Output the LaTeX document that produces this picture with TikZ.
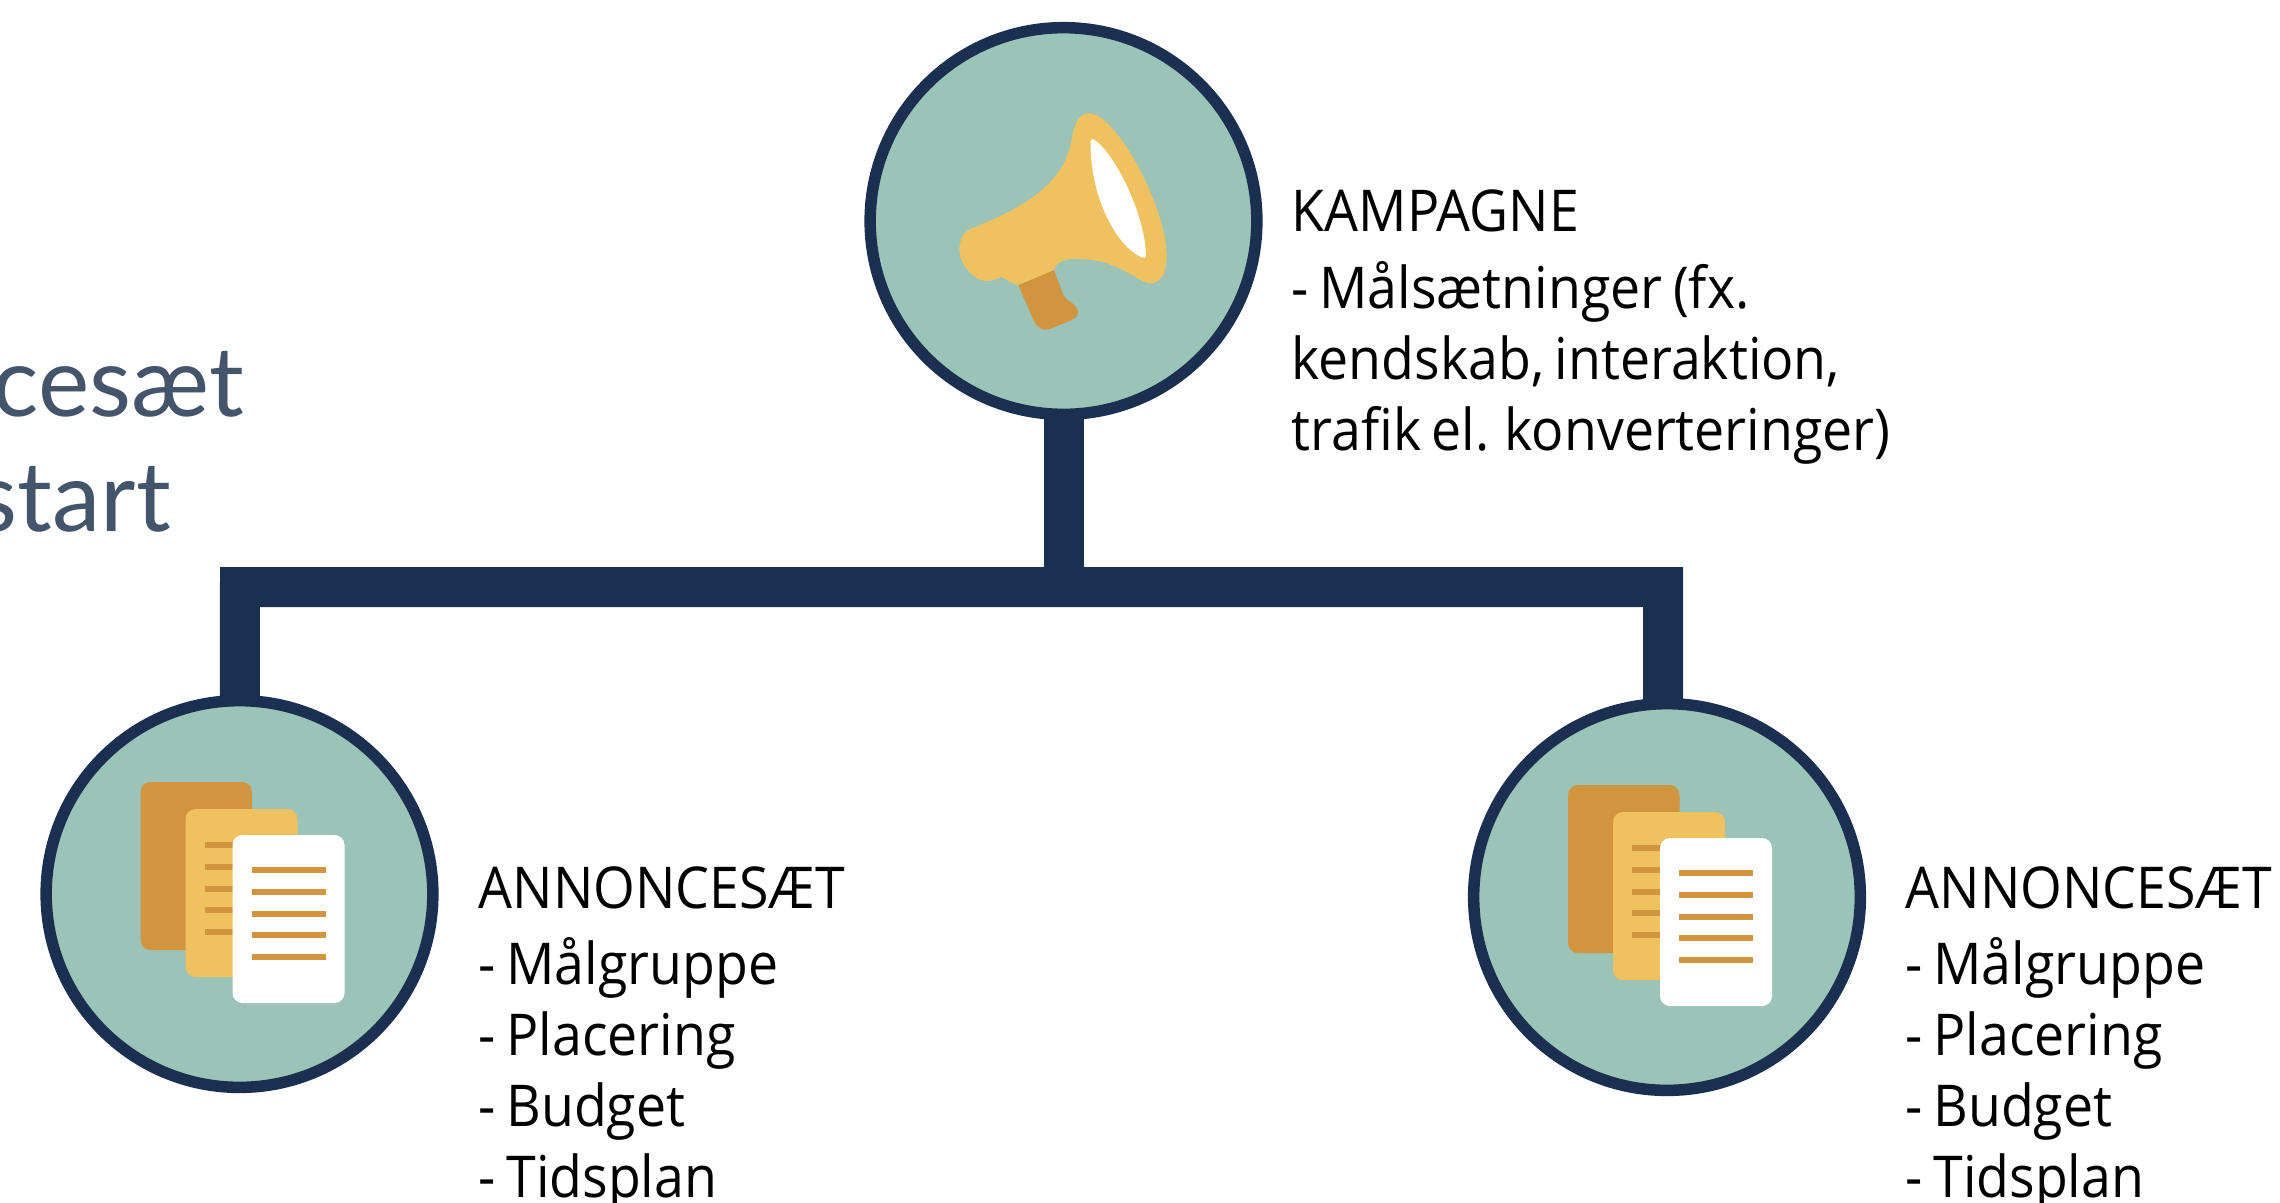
\documentclass[tikz,border=0pt]{standalone}
\usepackage{fontspec}
\setmainfont{Open Sans}[FakeStretch=0.93,WordSpace=0.75]
\newfontfamily\titelfont{Lato}
\usepackage{xcolor}
\usepackage{tikz}
\usetikzlibrary{backgrounds}
\definecolor{navy}{HTML}{1B3050}
\definecolor{teal}{HTML}{9BC3B7}
\definecolor{gul}{HTML}{F0C25F}
\definecolor{orange}{HTML}{D2953F}
\definecolor{titel}{HTML}{44546A}
\tikzset{
	rund/.style={circle,draw=navy,fill=teal,line width=1.15mm,minimum size=3.865cm,inner sep=0pt},
	link/.style={draw=navy,line width=4mm,line join=miter},
	tekst/.style={anchor=north west,align=left,inner sep=0pt,font=\fontsize{16.4}{20.2}\selectfont},
	titeltekst/.style={anchor=base east,inner sep=0pt,text=titel,font=\titelfont\fontsize{27.6}{32.7}\selectfont},
	ark/.style={rounded corners=1mm},
	streg/.style={draw=orange,line width=0.6mm},
	pics/dokumenter/.style={code={
		\fill[ark,orange] (-99,-112) rectangle (12.5,56);
		\fill[ark,gul] (-54,-85) rectangle (58,83);
		\foreach \i in {0,1,2,3,4} {\draw[streg] (-35,-49+21.8*\i) -- (0,-49+21.8*\i);}
		\fill[ark,white] (-7,-59) rectangle (105,109);
		\foreach \i in {0,1,2,3,4} {\draw[streg] (12,-24+21.8*\i) -- (86,-24+21.8*\i);}
	}}
}
\begin{document}
\begin{tikzpicture}[x=0.01cm,y=-0.01cm]
	\useasboundingbox (0,0) rectangle (2280,1202);
	\node[rund] (kampagne) at (1063.5,221) {};
	\node[rund] (saetA) at (239.5,894) {};
	\node[rund] (saetB) at (1667,897) {};
	% forbindelser
	\coordinate (barleft) at (240,587);
	\coordinate (barright) at (1663,587);
	\coordinate (barmid) at (1063.5,587);
	\coordinate (footright) at (1663,760);
	\begin{scope}[on background layer]
		\draw[link] (saetA.center) -- (barleft) -- (barright) -- (footright);
		\draw[link] (kampagne.center) -- (barmid);
	\end{scope}
	% megafon
	\begin{scope}[shift={(850,0)},scale=0.3333]
		\fill[orange] (505,855) -- (612,810) -- (640,885) .. controls (650,905) and (670,905) .. (680,925) .. controls (692,945) and (675,955) .. (665,960) -- (600,987) .. controls (575,995) and (560,980) .. (550,960) -- cycle;
		\fill[gul] (365,685) .. controls (480,640) and (630,570) .. (660,440) .. controls (672,390) and (675,340) .. (720,340) .. controls (800,345) and (950,620) .. (950,770) .. controls (950,830) and (925,850) .. (900,850) .. controls (860,845) and (800,775) .. (680,777) .. controls (640,778) and (620,785) .. (612,810) -- (505,855) .. controls (485,850) and (470,840) .. (455,830) .. controls (440,838) and (425,843) .. (410,843) .. controls (370,843) and (328,790) .. (328,750) .. controls (328,720) and (340,695) .. (365,685) -- cycle;
		\fill[white] (728,417) .. controls (790,450) and (885,640) .. (888,765) .. controls (888,775) and (880,775) .. (875,772) .. controls (800,740) and (720,590) .. (722,430) .. controls (722,420) and (725,417) .. (728,417) -- cycle;
	\end{scope}
	% ark
	\pic at (saetA) {dokumenter};
	\pic at (saetB) {dokumenter};
	% tekster
	\node[tekst] (kampagnetekst) at (1291,189.5) {KAMPAGNE\\[1.5pt]- Målsætninger (fx.\\kendskab, interaktion,\\trafik el. konverteringer)};
	\node[tekst] (saetAtekst) at (478,865.5) {ANNONCESÆT\\[1.5pt]- Målgruppe\\- Placering\\- Budget\\- Tidsplan};
	\node[tekst] (saetBtekst) at (1905,865.5) {ANNONCESÆT\\[1.5pt]- Målgruppe\\- Placering\\- Budget\\- Tidsplan};
	\node[titeltekst] (titelA) at (245,416.7) {cesæt};
	\node[titeltekst] (titelB) at (171.5,531.7) {start};
\end{tikzpicture}
\end{document}
